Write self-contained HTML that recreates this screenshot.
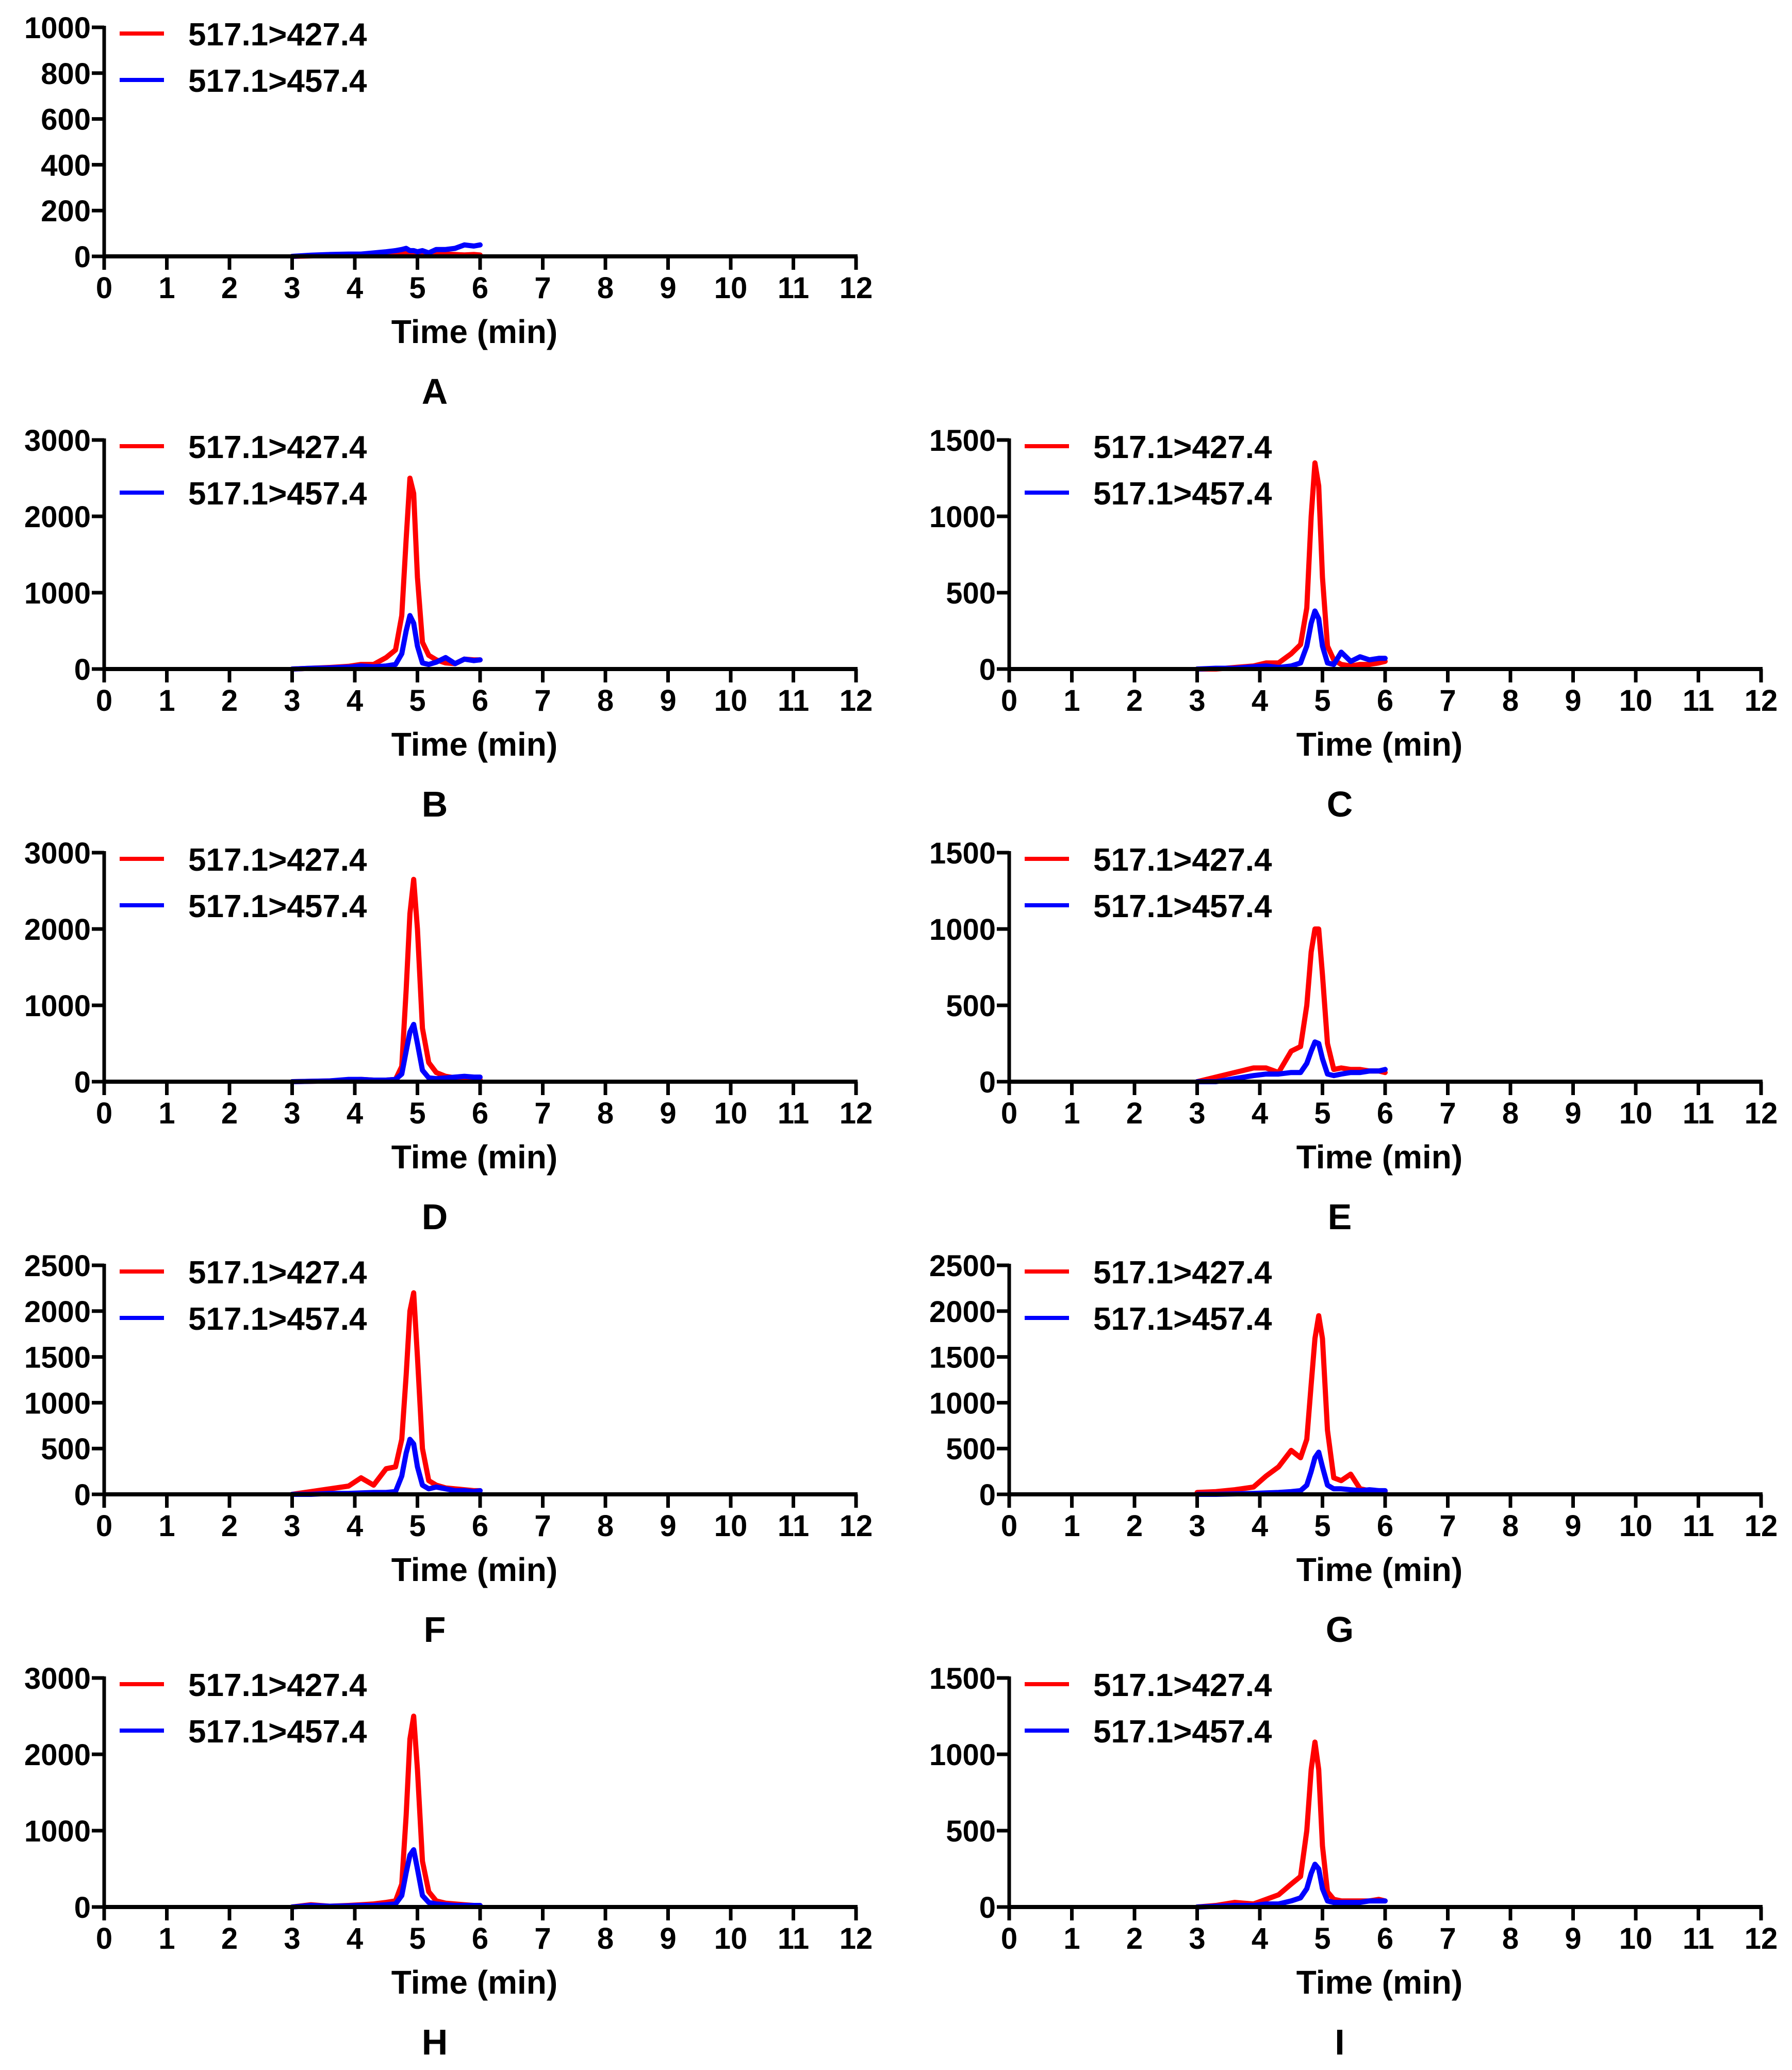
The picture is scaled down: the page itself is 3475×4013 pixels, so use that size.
<!DOCTYPE html>
<html><head><meta charset="utf-8">
<style>
html,body{margin:0;padding:0;background:#fff;}
svg{display:block;}
text{font-family:"Liberation Sans",Arial,sans-serif;font-weight:bold;fill:#000;}
</style></head>
<body>
<svg id="fig" width="3475" height="4013" viewBox="0 0 3475 4013" xmlns="http://www.w3.org/2000/svg"></svg>
<script>
const times = [3.0,3.3,3.6,3.9,4.1,4.3,4.5,4.65,4.75,4.82,4.88,4.94,5.0,5.08,5.18,5.3,5.45,5.6,5.75,5.9,6.0];
const xTicks = [0,1,2,3,4,5,6,7,8,9,10,11,12];
const panelLabels = ["A","B","C","D","E","F","G","H","I"];
const yMaxes = [1000,3000,1500,3000,1500,2500,2500,3000,1500];
const yTickSteps = [200,1000,500,1000,500,500,500,1000,500];
const legendNames = ["517.1>427.4","517.1>457.4"];
const redA = [0,2,4,5,6,8,10,12,14,15,15,15,14,12,10,8,10,8,6,8,6];
const blueA = [0,5,8,10,10,15,20,25,30,35,25,25,20,25,15,30,30,35,50,45,50];
const redB = [0,10,20,35,60,60,150,250,700,1700,2500,2300,1200,350,180,120,80,70,130,120,120];
const blueB = [0,10,15,25,40,30,40,60,200,500,700,600,300,80,60,90,150,70,130,110,120];
const redC = [0,0,10,20,40,40,100,160,400,1000,1350,1200,600,150,60,30,20,30,30,40,50];
const blueC = [0,5,5,15,20,10,20,40,150,300,380,330,150,40,30,110,50,80,60,70,70];
const redD = [0,5,10,20,30,20,20,30,200,1200,2200,2650,2000,700,250,120,70,50,40,30,30];
const blueD = [0,5,10,30,30,20,20,30,100,400,650,750,500,150,50,40,50,60,70,60,60];
const redE = [0,30,60,90,90,60,200,230,500,850,1000,1000,700,250,80,90,80,80,70,70,60];
const blueE = [0,0,20,40,50,50,60,60,120,200,260,250,150,50,40,50,60,60,70,70,80];
const redF = [0,30,60,90,180,100,280,300,600,1300,2000,2200,1500,500,150,100,70,60,50,40,40];
const blueF = [0,0,10,10,15,20,20,30,200,450,600,550,300,100,60,80,60,40,40,30,40];
const redG = [20,30,50,80,200,300,480,400,600,1200,1700,1950,1700,700,180,150,220,60,40,30,30];
const blueG = [0,0,5,10,15,20,30,40,100,250,400,460,300,100,60,60,50,40,50,40,40];
const redH = [0,30,10,20,30,40,60,80,300,1200,2200,2500,1800,600,200,80,50,40,30,20,20];
const blueH = [0,20,10,15,20,20,30,40,150,450,680,750,500,150,60,40,30,20,20,20,20];
const redI = [0,10,30,20,50,80,150,200,500,900,1080,900,400,100,50,40,40,40,40,50,40];
const blueI = [0,5,10,10,20,20,40,60,120,220,280,250,120,40,30,30,30,30,40,40,40];
const redSeries = [redA,redB,redC,redD,redE,redF,redG,redH,redI];
const blueSeries = [blueA,blueB,blueC,blueD,blueE,blueF,blueG,blueH,blueI];

const NS = "http://www.w3.org/2000/svg";
const svg = document.getElementById("fig");
function mk(tag, attrs, parent){
  const e = document.createElementNS(NS, tag);
  for (const k in attrs) e.setAttribute(k, attrs[k]);
  (parent||svg).appendChild(e);
  return e;
}
const positions = [[0,0],[0,1],[1,1],[0,2],[1,2],[0,3],[1,3],[0,4],[1,4]];
positions.forEach((p, i) => {
  const x0 = p[0] === 0 ? 202 : 1957;
  const xW = 1458;
  const yZero = 497 + 800*p[1];
  const yTop = 53 + 800*p[1];
  const xs = t => x0 + t/12*xW;
  const ys = v => yZero - v/yMaxes[i]*(yZero-yTop);
  const g = mk("g", {});
  
  
  [[redSeries[i],"#ff0000","red-trace"],[blueSeries[i],"#0000ff","blue-trace"]].forEach(s => {
    const d = s[0].map((v,k)=> (k?"L":"M")+xs(times[k]).toFixed(1)+","+ys(v).toFixed(1)).join(" ");
    const path = mk("path", {d:d, fill:"none", stroke:s[1], "stroke-width":10, "stroke-linejoin":"round", "stroke-linecap":"round"}, g);
    
    
  });
  const ya = mk("line", {x1:x0, y1:yTop-3, x2:x0, y2:yZero+4, stroke:"#000","stroke-width":7}, g);
  
  
  const xa = mk("line", {x1:x0-3, y1:yZero, x2:x0+xW+3, y2:yZero, stroke:"#000","stroke-width":8}, g);
  
  
  xTicks.forEach(t => {
    mk("line", {x1:xs(t), y1:yZero, x2:xs(t), y2:yZero+26, stroke:"#000","stroke-width":7}, g);
    const tl = mk("text", {x:xs(t), y:yZero+81, "font-size":58, "text-anchor":"middle"}, g);
    tl.textContent = t;
    
    
  });
  for (let v = 0; v <= yMaxes[i]; v += yTickSteps[i]) {
    mk("line", {x1:x0-24, y1:ys(v), x2:x0, y2:ys(v), stroke:"#000","stroke-width":7}, g);
    const tl = mk("text", {x:x0-26, y:ys(v)+21, "font-size":58, "text-anchor":"end"}, g);
    tl.textContent = v;
    
    
  }
  const xt = mk("text", {x:x0+718, y:yTop+612, "font-size":64, "text-anchor":"middle"}, g);
  xt.textContent = "Time (min)";
  
  
  const pl = mk("text", {x:x0+641, y:yTop+730, "font-size":70, "text-anchor":"middle"}, g);
  pl.textContent = panelLabels[i];
  
  
  ["#ff0000","#0000ff"].forEach((c, k) => {
    const ly = yTop + 12 + 90*k;
    const lg = mk("g", {}, g);
    
    
    mk("line", {x1:x0+30, y1:ly, x2:x0+116, y2:ly, stroke:c, "stroke-width":8}, lg);
    const lt = mk("text", {x:x0+163, y:ly+23, "font-size":62}, lg);
    lt.textContent = legendNames[k];
  });
});
</script>
</body></html>
